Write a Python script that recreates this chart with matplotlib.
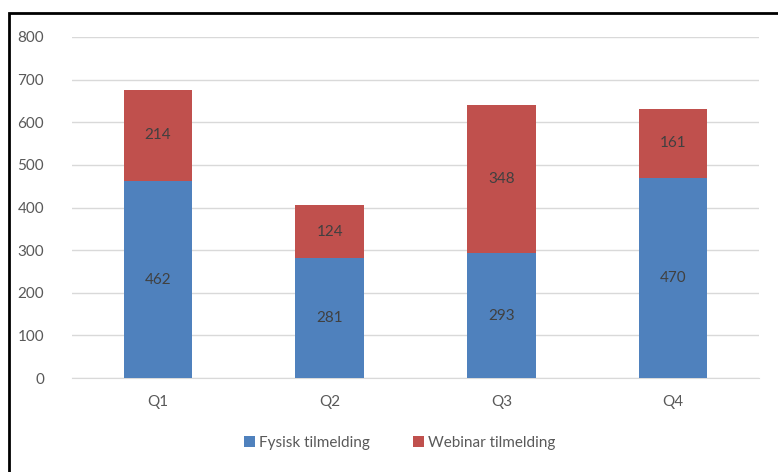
import matplotlib
matplotlib.use("Agg")
import matplotlib.pyplot as plt
from matplotlib.patches import Rectangle
import numpy as np

categories = ["Q1", "Q2", "Q3", "Q4"]
fysisk = [462, 281, 293, 470]
webinar = [214, 124, 348, 161]
y_ticks = [0, 100, 200, 300, 400, 500, 600, 700, 800]

BLUE = "#4F81BD"
RED = "#C0504D"
TEXT = "#595959"

plt.rcParams["font.family"] = ["Lato", "DejaVu Sans"]

W, H = 778, 472
fig = plt.figure(figsize=(W / 100, H / 100), dpi=100)
ax = fig.add_axes([72 / W, 1 - 378 / H, (759 - 72) / W, (378 - 37) / H])

x = np.arange(len(categories))
b1 = ax.bar(x, fysisk, width=0.4, color=BLUE, label="Fysisk tilmelding", zorder=3)
b2 = ax.bar(x, webinar, width=0.4, bottom=fysisk, color=RED, label="Webinar tilmelding", zorder=3)

for rect, v in zip(b1, fysisk):
    ax.text(rect.get_x() + rect.get_width() / 2, v / 2, str(v),
            ha="center", va="center", fontsize=11, color="#404040", zorder=4)
for rect, base, v in zip(b2, fysisk, webinar):
    ax.text(rect.get_x() + rect.get_width() / 2, base + v / 2, str(v),
            ha="center", va="center", fontsize=11, color="#404040", zorder=4)

ax.set_xlim(-0.5, 3.5)
ax.set_ylim(0, 800)
ax.set_yticks(y_ticks)
ax.set_xticks(x)
ax.set_xticklabels(categories)
ax.yaxis.grid(True, color="#D9D9D9", linewidth=1, zorder=0)
for s in ["top", "right", "left"]:
    ax.spines[s].set_visible(False)
ax.spines["bottom"].set_color("#D9D9D9")
ax.tick_params(axis="both", length=0, labelsize=11, colors=TEXT)
ax.tick_params(axis="y", pad=20)
ax.tick_params(axis="x", pad=12)

leg = fig.legend(handles=[b1, b2], loc="center", bbox_to_anchor=(400 / W, 1 - 443 / H),
                 ncol=2, frameon=False, fontsize=11, handlelength=0.7, handleheight=0.7,
                 handletextpad=0.3, columnspacing=2.8)
for t in leg.get_texts():
    t.set_color(TEXT)

# outer frame (right and bottom edges fall outside the image)
fig.patches.append(Rectangle((9 / W, -0.1), 1.2, (1 - 13 / H) + 0.1, transform=fig.transFigure,
                             fill=False, edgecolor="black", linewidth=2))

fig.savefig("out.png", dpi=100)
